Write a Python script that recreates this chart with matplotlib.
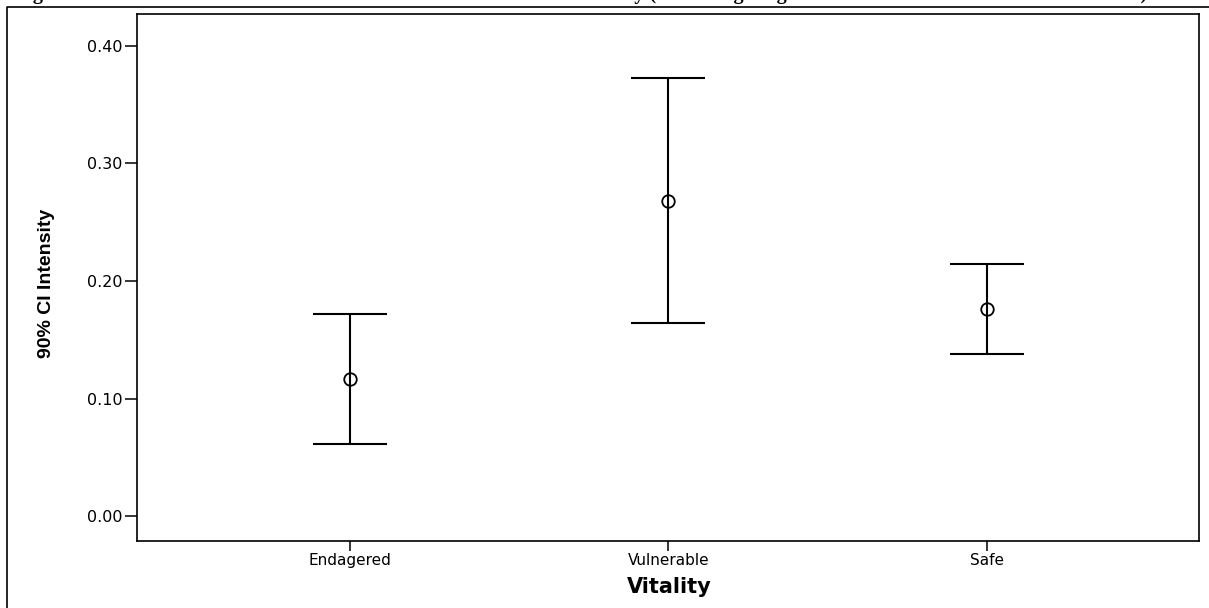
import matplotlib
matplotlib.use("Agg")
import matplotlib.pyplot as plt
from matplotlib.lines import Line2D
from matplotlib import font_manager

categories = ["Endagered", "Vulnerable", "Safe"]
means = [0.1168, 0.2680, 0.1765]
lower = [0.0613, 0.1639, 0.1378]
upper = [0.1723, 0.3723, 0.2143]
yticks = [0.00, 0.10, 0.20, 0.30, 0.40]
title = ("Figure 3: Mean Intensities and Confidence Intervals for Levels of Vitality "
         "(Excluding Single Outlier Cases from the Whole Data Set)")

W, H = 1209, 608
fig = plt.figure(figsize=(W / 100, H / 100), dpi=100)
fig.patch.set_facecolor("white")

def fx(px):
    return px / W

def fy(py):
    return 1 - py / H

ax = fig.add_axes([fx(137), fy(541), fx(1199) - fx(137), fy(14) - fy(541)])

x = list(range(len(categories)))
yerr = [[m - l for m, l in zip(means, lower)], [u - m for u, m in zip(upper, means)]]
ax.errorbar(x, means, yerr=yerr, fmt="none", ecolor="black", elinewidth=1.5,
            capsize=26.3, capthick=1.5)
ax.plot(x, means, linestyle="none", marker="o", markersize=9, markerfacecolor="none",
        markeredgecolor="black", markeredgewidth=1.3)

ax.set_xlim(-0.669, 2.666)
ax.set_ylim(-0.021, 0.427)
ax.set_xticks(x)
ax.set_xticklabels(categories, fontsize=11, family="DejaVu Sans")
ax.set_yticks(yticks)
ax.set_yticklabels([f"{v:.2f}" for v in yticks], fontsize=11.5, family="DejaVu Sans")
ax.tick_params(axis="y", direction="out", length=8.6, width=1.1, pad=2)
ax.tick_params(axis="x", direction="out", length=7.2, width=1.1, pad=1.5)
for s in ax.spines.values():
    s.set_linewidth(1.2)

names = {f.name for f in font_manager.fontManager.ttflist}
ylab_family = "Liberation Sans Narrow" if "Liberation Sans Narrow" in names else "Liberation Sans"
fig.text(fx(47), fy(283), "90% CI Intensity", rotation=90, ha="center", va="center",
         fontsize=16 if ylab_family == "Liberation Sans Narrow" else 14,
         fontweight="bold", family=ylab_family)
fig.text(fx(669), fy(587), "Vitality", ha="center", va="center", fontsize=15,
         fontweight="bold", family="DejaVu Sans")

# outer frame
fig.add_artist(Line2D([fx(7), fx(7), 1.0], [0.0, fy(7), fy(7)], transform=fig.transFigure,
                      color="black", linewidth=1.2))

# title cut off at the top edge, as in the reference (only descenders visible)
fig.text(fx(15), 1 + 1.0 / H, title, ha="left", va="baseline", fontsize=14.5,
         fontweight="bold", family="Liberation Serif")

fig.savefig("out.png", dpi=100, facecolor="white")
